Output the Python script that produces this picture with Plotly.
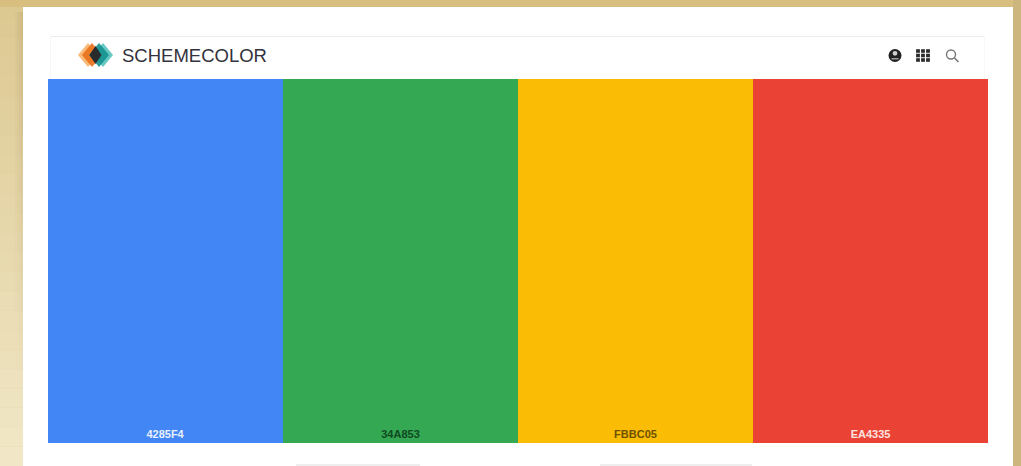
import plotly.graph_objects as go

W, H = 1021, 466
hex_labels = ["4285F4", "34A853", "FBBC05", "EA4335"]
bar_colors = ["#4285F4", "#34A853", "#FBBC05", "#EA4335"]
label_colors = ["#e8f0fe", "#0f4a22", "#6e5200", "#fde3e0"]
swatch_share = [1, 1, 1, 1]
brand = "SCHEMECOLOR"

def px(x): return x / W
def py(y): return 1 - y / H

def rect(x0, y0, x1, y1, color, opacity=1, layer="below"):
    return dict(type="rect", xref="paper", yref="paper", x0=px(x0), x1=px(x1), y0=py(y0), y1=py(y1),
                fillcolor=color, opacity=opacity, line_width=0, layer=layer)

def diamond(cx, cy, rx, ry, color, opacity=0.85):
    path = (f"M {px(cx-rx)} {py(cy)} L {px(cx)} {py(cy-ry)} L {px(cx+rx)} {py(cy)} "
            f"L {px(cx)} {py(cy+ry)} Z")
    return dict(type="path", xref="paper", yref="paper", path=path, fillcolor=color,
                opacity=opacity, line_width=0, layer="above")

def oval(cx, cy, r, fill, line=None, lw=0):
    return dict(type="circle", xref="paper", yref="paper", x0=px(cx-r), x1=px(cx+r), y0=py(cy+r), y1=py(cy-r),
                fillcolor=fill, line=dict(color=line or fill, width=lw), layer="above")

shapes = []
# wood-toned surround: fine bands so the change from golden to cream reads as a gradient
top_tone, bottom_tone = (220, 200, 145), (241, 231, 198)
steps = 24
for i in range(steps):
    t = i / (steps - 1)
    tone = tuple(round(a + (b - a) * t) for a, b in zip(top_tone, bottom_tone))
    shapes.append(rect(0, H * i / steps, 23, H * (i + 1) / steps, "rgb(%d,%d,%d)" % tone))
shapes.append(rect(0, 0, W, 7, "#d8bf80"))
shapes.append(rect(1013, 0, W, H, "#cdb67d"))
# soft shadow beside the card, fading out downwards
for i in range(12):
    fade = 1 - i / 12
    y0 = 12 + i * 30
    for x0, op in [(15, 0.1), (17, 0.18), (19, 0.27), (21, 0.36)]:
        shapes.append(rect(x0, y0, x0 + 2, y0 + 30, "#b9a272", op * fade))
# card
shapes.append(rect(23, 7, 1013, H, "#ffffff"))
# header outline
shapes.append(rect(50, 36, 985, 37, "#ececec"))
shapes.append(rect(50, 36, 51, 79, "#f6f6f6"))
shapes.append(rect(984, 36, 985, 79, "#f8f8f8"))
# logo
shapes += [diamond(88, 55, 10, 12, "#f7b267", 0.9), diamond(92, 55, 10, 12, "#e8701a", 0.9),
           diamond(103, 55, 10, 12, "#55c2bd", 0.9), diamond(99, 55, 10, 12, "#15918f", 0.9),
           diamond(95.5, 55, 6, 9, "#2a2426", 0.95)]
# user icon
shapes.append(oval(895, 55.5, 6.5, "#222222"))
shapes.append(oval(895, 53.3, 2.4, "#cfcfcf"))
shapes.append(rect(891.5, 58, 898.5, 59.5, "#bdbdbd", 0.8, "above"))
# grid icon
for gx in (918, 923, 928):
    for gy in (51, 55.5, 60):
        shapes.append(rect(gx - 1.9, gy - 1.8, gx + 1.9, gy + 1.8, "#2b2b2b", layer="above"))
# search icon
shapes.append(oval(951, 54.5, 4.5, "rgba(0,0,0,0)", "#777777", 1.4))
shapes.append(dict(type="line", xref="paper", yref="paper", x0=px(954.5), y0=py(58), x1=px(958.5), y1=py(62),
                   line=dict(color="#777777", width=1.6), layer="above"))
# tops of the buttons below the swatches
shapes.append(rect(296, 464, 420, 466, "#eeeeee"))
shapes.append(rect(600, 464, 752, 466, "#eeeeee"))

fig = go.Figure(go.Bar(
    x=hex_labels, y=swatch_share, width=1,
    marker=dict(color=bar_colors, line_width=0),
    text=hex_labels, textposition="inside", insidetextanchor="start", textangle=0,
    insidetextfont=dict(color=label_colors, size=11, family="Liberation Sans", weight=600),
    hoverinfo="skip",
))
fig.update_layout(
    width=W, height=H, margin=dict(l=0, r=0, t=0, b=0), showlegend=False,
    paper_bgcolor="#e2d09f", plot_bgcolor="#ffffff", bargap=0, shapes=shapes,
    xaxis=dict(domain=[px(48), px(988)], type="category", range=[-0.5, 3.5], visible=False),
    yaxis=dict(domain=[py(443), py(79)], range=[0, 1], visible=False),
    annotations=[dict(text=brand, xref="paper", yref="paper", x=px(120), y=py(55), xanchor="left", yanchor="middle",
                      showarrow=False, font=dict(family="Liberation Sans", size=18.5, color="#32323c"))],
)
fig.write_html("out.html", config=dict(displayModeBar=False),
               post_script="document.body.style.margin='0';document.documentElement.style.overflow='hidden';")
